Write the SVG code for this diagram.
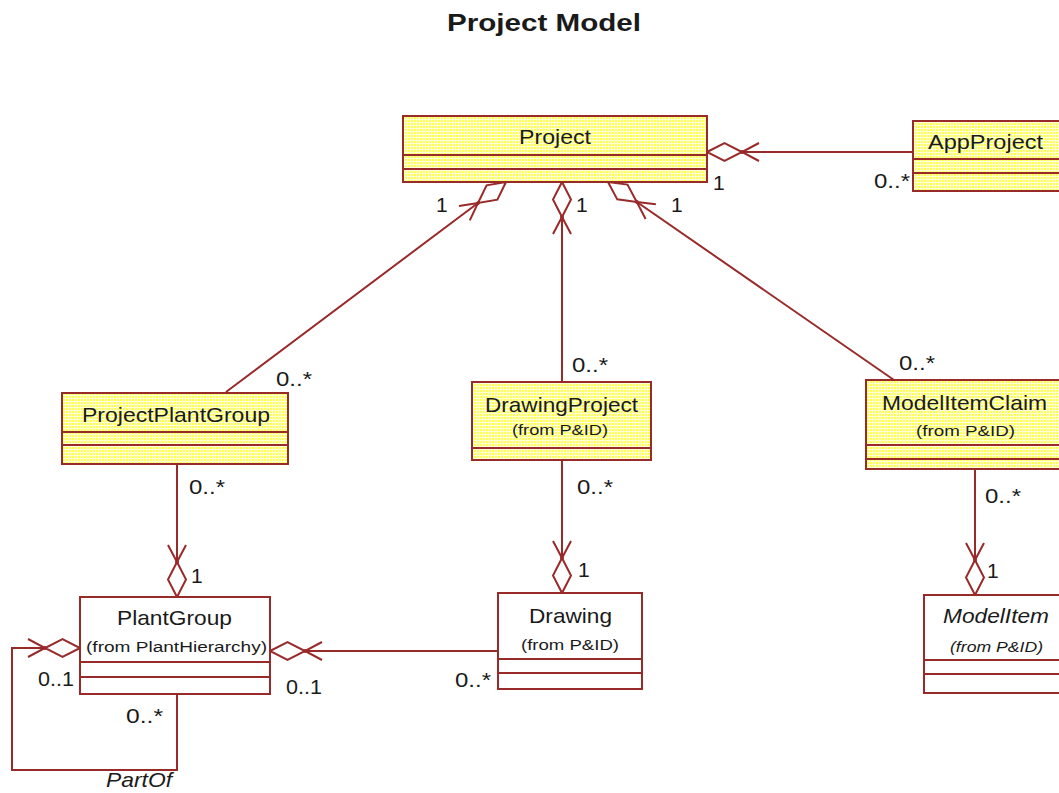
<svg xmlns="http://www.w3.org/2000/svg" width="1059" height="793" viewBox="0 0 1059 793">
<defs>
<pattern id="dots" patternUnits="userSpaceOnUse" width="3" height="3">
<rect width="3" height="3" fill="#ffffd8"/>
<rect width="2" height="2" fill="#ffff50"/>
</pattern>
<marker id="agg" markerUnits="userSpaceOnUse" orient="auto" refX="0" refY="0" markerWidth="60" markerHeight="30" overflow="visible">
<path d="M0,0 L17.5,-9 L35,0 L17.5,9 Z" fill="#fff" stroke="#992a2a" stroke-width="2"/>
<path d="M52,-9 L35,0 L52,9" fill="none" stroke="#992a2a" stroke-width="2"/>
<circle cx="35" cy="0" r="2" fill="#992a2a"/>
</marker>
</defs>
<style>
.box{stroke:#992a2a;stroke-width:2}
.y{fill:url(#dots)}
.w{fill:#fff}
.div{stroke:#992a2a;stroke-width:2}
.con{fill:none;stroke:#992a2a;stroke-width:2;marker-start:url(#agg)}
.nm{font-family:"Liberation Sans",Arial,sans-serif;font-size:21px;fill:#1a1a1a;text-anchor:middle}
.fr{font-family:"Liberation Sans",Arial,sans-serif;font-size:14px;fill:#1a1a1a;text-anchor:middle}
.m{font-family:"Liberation Sans",Arial,sans-serif;font-size:21px;fill:#1a1a1a}
.it{font-style:italic}
</style>
<rect width="1059" height="793" fill="#fff"/>
<text x="544" y="31" font-family="Liberation Sans,Arial,sans-serif" font-size="23" font-weight="bold" fill="#1a1a1a" text-anchor="middle" textLength="194" lengthAdjust="spacingAndGlyphs">Project Model</text>

<g id="connectors">
<path class="con" d="M707,152 L913,152"/>
<path class="con" d="M506,182 L226,392"/>
<path class="con" d="M562,182 L562,382"/>
<path class="con" d="M608,182 L894,380"/>
<path class="con" d="M177,597 L177,464"/>
<path class="con" d="M562,593 L562,460"/>
<path class="con" d="M975,595 L975,469"/>
<path class="con" d="M270,651 L498,651"/>
<path class="con" d="M80,648 L12,648 L12,770 L177,770 L177,695"/>
</g>

<g id="Project">
<rect class="box y" x="403" y="116" width="304" height="66"/>
<line class="div" x1="403" y1="155" x2="707" y2="155"/>
<line class="div" x1="403" y1="169" x2="707" y2="169"/>
<text class="nm" x="555" y="144" textLength="72" lengthAdjust="spacingAndGlyphs">Project</text>
</g>
<g id="AppProject">
<rect class="box y" x="913" y="121" width="160" height="70"/>
<line class="div" x1="913" y1="159" x2="1073" y2="159"/>
<line class="div" x1="913" y1="173" x2="1073" y2="173"/>
<text class="nm" x="985.5" y="149" textLength="115" lengthAdjust="spacingAndGlyphs">AppProject</text>
</g>
<g id="ProjectPlantGroup">
<rect class="box y" x="62" y="393" width="226" height="71"/>
<line class="div" x1="62" y1="432" x2="288" y2="432"/>
<line class="div" x1="62" y1="445" x2="288" y2="445"/>
<text class="nm" x="176" y="422" textLength="188" lengthAdjust="spacingAndGlyphs">ProjectPlantGroup</text>
</g>
<g id="DrawingProject">
<rect class="box y" x="472" y="382" width="179" height="78"/>
<line class="div" x1="472" y1="448" x2="651" y2="448"/>
<text class="nm" x="561.5" y="412" textLength="153" lengthAdjust="spacingAndGlyphs">DrawingProject</text>
<text class="fr" x="560" y="435" textLength="96" lengthAdjust="spacingAndGlyphs">(from P&amp;ID)</text>
</g>
<g id="ModelItemClaim">
<rect class="box y" x="866" y="380" width="210" height="89"/>
<line class="div" x1="866" y1="445" x2="1076" y2="445"/>
<line class="div" x1="866" y1="459" x2="1076" y2="459"/>
<text class="nm" x="964.5" y="410" textLength="165" lengthAdjust="spacingAndGlyphs">ModelItemClaim</text>
<text class="fr" x="965.5" y="436" textLength="99" lengthAdjust="spacingAndGlyphs">(from P&amp;ID)</text>
</g>
<g id="PlantGroup">
<rect class="box w" x="80" y="597" width="190" height="97"/>
<line class="div" x1="80" y1="662" x2="270" y2="662"/>
<line class="div" x1="80" y1="677" x2="270" y2="677"/>
<text class="nm" x="174.5" y="625" textLength="115" lengthAdjust="spacingAndGlyphs">PlantGroup</text>
<text class="fr" x="176.5" y="652" textLength="181" lengthAdjust="spacingAndGlyphs">(from PlantHierarchy)</text>
</g>
<g id="Drawing">
<rect class="box w" x="498" y="593" width="144" height="96"/>
<line class="div" x1="498" y1="659" x2="642" y2="659"/>
<line class="div" x1="498" y1="673" x2="642" y2="673"/>
<text class="nm" x="570.5" y="623" textLength="83" lengthAdjust="spacingAndGlyphs">Drawing</text>
<text class="fr" x="570" y="650" textLength="98" lengthAdjust="spacingAndGlyphs">(from P&amp;ID)</text>
</g>
<g id="ModelItem">
<rect class="box w" x="924" y="595" width="150" height="98"/>
<line class="div" x1="924" y1="660" x2="1074" y2="660"/>
<line class="div" x1="924" y1="674" x2="1074" y2="674"/>
<text class="nm it" x="996" y="623" textLength="106" lengthAdjust="spacingAndGlyphs">ModelItem</text>
<text class="fr it" x="996.5" y="652" textLength="93" lengthAdjust="spacingAndGlyphs">(from P&amp;ID)</text>
</g>

<g id="labels">
<text class="m" x="713" y="190">1</text>
<text class="m" x="874" y="188" textLength="36" lengthAdjust="spacingAndGlyphs">0..*</text>
<text class="m" x="436" y="212">1</text>
<text class="m" x="576" y="212">1</text>
<text class="m" x="671" y="212">1</text>
<text class="m" x="276" y="386" textLength="36" lengthAdjust="spacingAndGlyphs">0..*</text>
<text class="m" x="572" y="372" textLength="36" lengthAdjust="spacingAndGlyphs">0..*</text>
<text class="m" x="899" y="370" textLength="36" lengthAdjust="spacingAndGlyphs">0..*</text>
<text class="m" x="189" y="494" textLength="36" lengthAdjust="spacingAndGlyphs">0..*</text>
<text class="m" x="191" y="583">1</text>
<text class="m" x="577" y="494" textLength="36" lengthAdjust="spacingAndGlyphs">0..*</text>
<text class="m" x="578" y="577">1</text>
<text class="m" x="985" y="503" textLength="36" lengthAdjust="spacingAndGlyphs">0..*</text>
<text class="m" x="987" y="578">1</text>
<text class="m" x="38" y="686" textLength="36" lengthAdjust="spacingAndGlyphs">0..1</text>
<text class="m" x="286" y="694" textLength="36" lengthAdjust="spacingAndGlyphs">0..1</text>
<text class="m" x="455" y="687" textLength="36" lengthAdjust="spacingAndGlyphs">0..*</text>
<text class="m" x="126" y="723" textLength="37" lengthAdjust="spacingAndGlyphs">0..*</text>
<text class="m it" x="106" y="787" textLength="66" lengthAdjust="spacingAndGlyphs">PartOf</text>
</g>
</svg>
